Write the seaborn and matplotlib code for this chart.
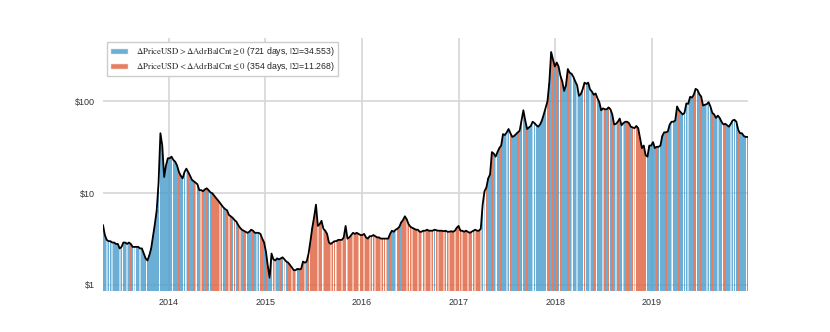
import pandas as pd
import seaborn as sns
import matplotlib
matplotlib.use("Agg")
import matplotlib.pyplot as plt
import matplotlib.dates as mdates
from matplotlib.patches import Patch
from matplotlib.ticker import FixedLocator, FixedFormatter, NullLocator

# weekly closing price (USD), one value per Sunday starting 2013-04-28
price_2013 = [4.5, 3.5, 3.1, 3.0, 3.0, 2.9, 2.9, 2.8, 2.8, 2.5, 2.6, 2.9, 2.9, 2.8, 2.9, 2.8, 2.6, 2.6,
              2.6, 2.6, 2.5, 2.5, 2.2, 1.95, 1.85, 2.1, 2.5, 3.4, 4.6, 6.5, 13.0, 45.0, 33.0, 15.0, 20.0, 24.0]
price_2014 = [24, 25, 23, 22, 20, 17, 15.5, 14.5, 17, 18.5, 17, 15.5, 14, 13.5, 13, 12.5, 10.8, 10.8,
              10.5, 11, 11.3, 10.8, 10.2, 10, 9.4, 8.9, 8.4, 7.9, 7.4, 7.0, 6.7, 6.5, 5.8, 5.6, 5.4, 5.1,
              4.9, 4.5, 4.2, 4.0, 3.9, 3.8, 3.7, 3.8, 4.0, 3.9, 3.7, 3.7, 3.7, 3.6, 3.2, 2.9]
price_2015 = [2.3, 1.6, 1.2, 2.2, 1.9, 1.85, 1.95, 1.9, 1.95, 2.0, 1.9, 1.8, 1.75, 1.65, 1.55, 1.45, 1.45,
              1.5, 1.48, 1.5, 1.8, 1.75, 1.8, 2.2, 3.0, 4.2, 5.5, 7.5, 4.4, 4.6, 5.0, 4.1, 3.9, 3.6, 2.9,
              2.8, 2.9, 3.0, 3.0, 3.1, 3.1, 3.1, 3.3, 4.4, 3.2, 3.3, 3.5, 3.7, 3.6, 3.7, 3.6, 3.5]
price_2016 = [3.5, 3.6, 3.3, 3.2, 3.4, 3.4, 3.5, 3.4, 3.3, 3.3, 3.2, 3.2, 3.2, 3.2, 3.2, 3.6, 3.9, 3.8,
              4.0, 4.1, 4.3, 4.8, 5.1, 5.6, 5.2, 4.6, 4.3, 4.2, 4.1, 4.0, 4.0, 3.8, 3.8, 3.9, 3.9, 4.0,
              3.9, 3.9, 3.9, 4.0, 3.95, 3.9, 3.9, 3.9, 3.85, 3.9, 3.8, 3.8, 3.85, 3.8, 3.9, 4.2]
price_2017 = [4.4, 3.9, 3.9, 3.8, 3.9, 3.8, 3.7, 3.8, 3.9, 4.0, 3.9, 3.9, 4.1, 7.5, 10.5, 11.5, 14.5, 16,
              28, 27, 25, 28, 31, 33, 44, 43, 46, 50, 45, 41, 42, 44, 46, 48, 62, 80, 62, 50, 52, 54,
              60, 58, 55, 53, 56, 62, 72, 85, 100, 160, 345, 285, 240]
price_2018 = [265, 240, 190, 165, 130, 150, 225, 205, 200, 185, 165, 150, 115, 120, 135, 160, 155, 160,
              135, 128, 118, 122, 108, 98, 80, 84, 82, 82, 86, 82, 72, 56, 57, 60, 65, 55, 58, 60, 60,
              58, 53, 52, 51, 54, 51, 40, 31, 33, 26, 25, 33, 33]
price_2019 = [36, 31, 32, 32, 33, 42, 46, 46, 47, 56, 60, 60, 62, 88, 80, 76, 72, 75, 95, 94, 112, 110,
              118, 137, 133, 120, 113, 90, 92, 93, 98, 88, 75, 72, 66, 70, 66, 60, 56, 57, 55, 53, 57,
              62, 63, 60, 49, 45, 45, 42, 41, 41]

# week class, grouped by month: b/r = up/down day class, B/R = weaker weeks
code_2013 = "b bBbb BbbbB bbbB brbB bbBbb rrbb bbbb bbbbb"
code_2014 = "bbbb brbb bBrbb rRrb Rrbr bbrrr rRrr brRrb rbrR brbr bbrbB brrb"
code_2015 = "rbbb bRbb rbRbr rRrR rbrrR brrr rrRr rRrrr RrrR rrRr rRrrR rrRr"
code_2016 = "rRrrR rrRr rRrr Rbrb bBbrb rrRr rRrrR rBrR rrRr brRrr RrrR rrRr"
code_2017 = "rrRrr Rrbr RrrR bBrbb rbBb brbb Bbrbb brbr bbrb bBbbb bbbb brbrb"
code_2018 = "rbrb bbrb RrbB bbbrb bBbr brbb Brbrb rbBr brRbr rbrR rrrr rrrbb"
code_2019 = "bbrb bbbr bbBbb brbb bbBb brrrb rbbB bbrb bBbbb rbbB bbbr bbbbr"

y_ticks = [1, 10, 100]
y_labels = ["$1", "$10", "$100"]
label_up = r"$\Delta\mathrm{PriceUSD} > \Delta\mathrm{AdrBalCnt} \geq 0$ (721 days, $|\Sigma|$=34.553)"
label_down = r"$\Delta\mathrm{PriceUSD} < \Delta\mathrm{AdrBalCnt} \leq 0$ (354 days, $|\Sigma|$=11.268)"

prices = price_2013 + price_2014 + price_2015 + price_2016 + price_2017 + price_2018 + price_2019
codes = "".join([code_2013, code_2014, code_2015, code_2016, code_2017, code_2018, code_2019]).replace(" ", "")
dates = pd.date_range("2013-04-28", periods=len(prices), freq="7D")
df = pd.DataFrame({"date": dates, "price": prices, "code": list(codes)})

sns.set_style("whitegrid")
plt.rcParams["font.family"] = ["Liberation Sans", "DejaVu Sans"]
plt.rcParams["mathtext.fontset"] = "stix"

palette = {"b": "#51a0cf", "B": "#acd3e9", "r": "#e16948", "R": "#f1b29d"}
ymin = 0.86

fig = plt.figure(figsize=(8.3, 3.32), dpi=100)
ax = fig.add_axes([0.1241, 0.1235, 0.7771, 0.762])
ax.set_axisbelow(True)

ax.bar(df["date"], df["price"] - ymin, bottom=ymin, width=6.3,
       color=df["code"].map(palette), alpha=0.85, linewidth=0, zorder=1)
sns.lineplot(data=df, x="date", y="price", color="black", linewidth=1.3, ax=ax, zorder=3)

ax.set_yscale("log")
ax.set_ylim(ymin, 490)
ax.set_xlim(pd.Timestamp("2013-04-28"), pd.Timestamp("2019-12-31"))
ax.yaxis.set_major_locator(FixedLocator(y_ticks))
ax.yaxis.set_major_formatter(FixedFormatter(y_labels))
ax.yaxis.set_minor_locator(NullLocator())
ax.xaxis.set_major_locator(mdates.YearLocator())
ax.xaxis.set_major_formatter(mdates.DateFormatter("%Y"))
ax.set_xlabel("")
ax.set_ylabel("")
ax.tick_params(axis="both", labelsize=6.5, length=0, colors="#333333")
ax.tick_params(axis="y", pad=6)
ax.tick_params(axis="x", pad=5)
ax.grid(True, color="#d6d6d6", linewidth=1.2)
sns.despine(ax=ax, left=True, bottom=True)

handles = [Patch(facecolor=palette["b"], alpha=0.85, label=label_up),
           Patch(facecolor=palette["r"], alpha=0.85, label=label_down)]
ax.legend(handles=handles, loc="upper left", fontsize=6.3, frameon=True, fancybox=False,
          edgecolor="#cccccc", framealpha=1, borderaxespad=0.45, borderpad=0.35,
          labelspacing=0.25, handlelength=2.1, handletextpad=0.9)

fig.savefig("out.png", dpi=100)
